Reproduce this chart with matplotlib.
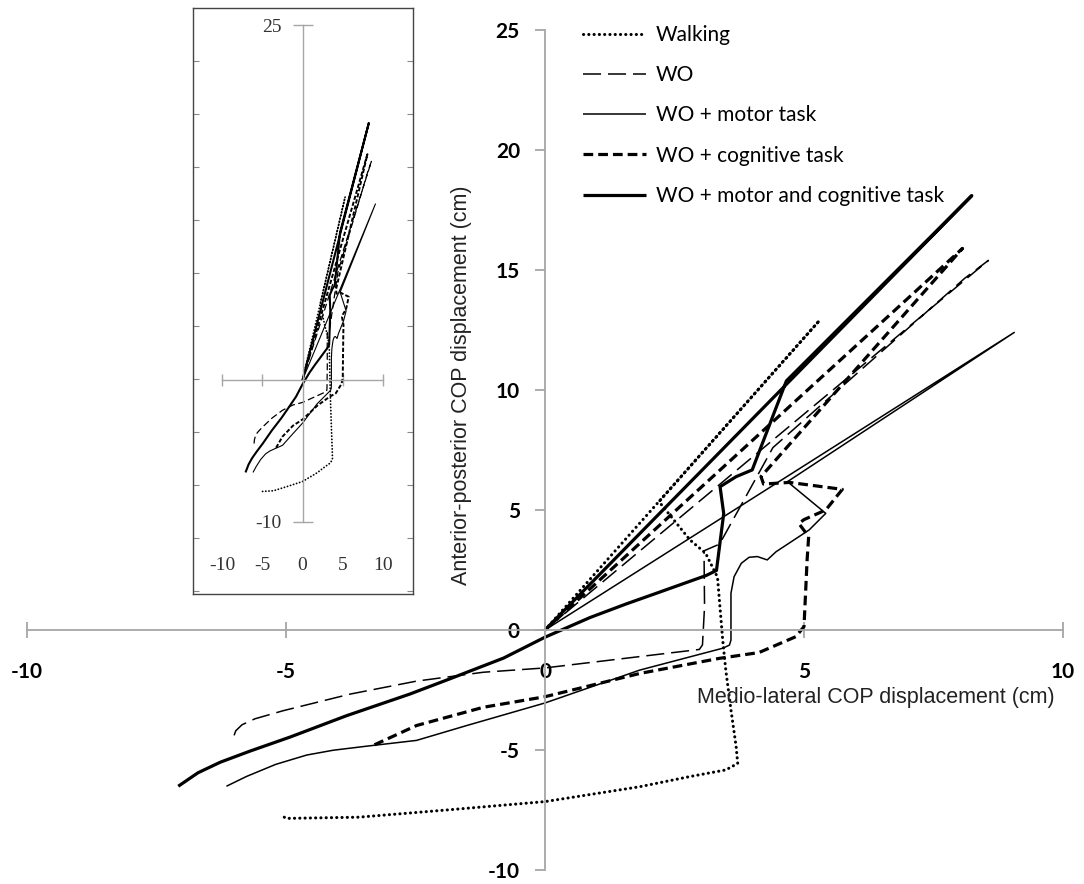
import matplotlib
matplotlib.use('Agg')
import matplotlib.pyplot as plt
from matplotlib.transforms import blended_transform_factory

plt.rcParams['lines.scale_dashes'] = False
plt.rcParams['axes.unicode_minus'] = False

# COP trajectories (cm): medio-lateral (x) / anterior-posterior (y)
walk_x = [0.0, 5.3, 2.2, 2.8, 3.1, 3.33, 3.43, 3.49, 3.59, 3.69, 3.72, 3.49, 2.79, 1.83, 0.0, -1.9, -3.6, -5.0, -5.1]
walk_y = [0.0, 12.9, 5.35, 3.75, 3.2, 2.2, -0.4, -1.67, -3.33, -4.86, -5.56, -5.83, -6.11, -6.53, -7.15, -7.5, -7.8, -7.85, -7.7]

wo_x = [0.0, 8.56, 8.1, 4.4, 3.37, 3.07, 3.08, 3.04, 2.98, 0.0, -1.19, -2.48, -3.76, -5.05, -5.6, -5.85, -5.97, -6.02]
wo_y = [0.0, 15.4, 14.65, 7.6, 3.58, 3.3, 0.97, -0.62, -0.81, -1.58, -1.76, -2.13, -2.67, -3.36, -3.7, -3.95, -4.2, -4.5]

mot_x = [0.0, 9.06, 4.68, 5.42, 5.1, 4.46, 4.29, 4.1, 3.94, 3.79, 3.65, 3.59, 3.59, 3.56, 3.43, 1.83, 0.0,
         -1.51, -2.48, -3.44, -4.09, -4.6, -5.2, -5.76, -6.15]
mot_y = [0.0, 12.4, 6.18, 4.86, 4.17, 3.26, 2.92, 3.06, 3.03, 2.78, 2.22, 1.53, -0.42, -0.63, -0.76, -1.67, -3.04,
         -3.98, -4.6, -4.84, -5.01, -5.21, -5.6, -6.1, -6.51]

cog_x = [0.0, 8.06, 4.17, 4.22, 4.72, 5.74, 5.42, 5.0, 4.9, 5.09, 5.06, 5.0, 4.84, 4.13, 3.37, 1.83, 0.0,
         -1.19, -2.48, -3.38]
cog_y = [0.0, 15.9, 6.39, 6.08, 6.15, 5.86, 5.0, 4.6, 4.44, 3.89, 2.92, 0.14, -0.28, -0.94, -1.18, -1.81, -2.78,
         -3.22, -3.98, -4.87]

mc_x = [0.0, 8.24, 4.66, 4.0, 3.69, 3.38, 3.45, 3.31, 3.11, 2.11, 1.56, 0.87, 0.0, -0.8, -1.83, -2.61, -3.83,
        -4.92, -5.7, -6.27, -6.7, -7.08]
mc_y = [0.0, 18.1, 10.38, 6.67, 6.39, 5.97, 4.85, 2.48, 2.27, 1.5, 1.08, 0.52, -0.3, -1.17, -2.03, -2.67, -3.57,
        -4.46, -5.05, -5.51, -5.95, -6.51]

labels = ['Walking', 'WO', 'WO + motor task', 'WO + cognitive task', 'WO + motor and cognitive task']
xticks = [-10, -5, 0, 5, 10]
yticks = [-10, -5, 0, 5, 10, 15, 20, 25]

series = [(walk_x, walk_y), (wo_x, wo_y), (mot_x, mot_y), (cog_x, cog_y), (mc_x, mc_y)]
# (linewidth, dash pattern in points, capstyle)
styles = [(2.2, (0, (0.1, 3.7)), 'round'),
          (1.1, (0, (13, 5)), 'butt'),
          (1.1, '-', 'butt'),
          (2.3, (0, (7, 3.6)), 'butt'),
          (2.3, '-', 'butt')]
inset_styles = [(1.3, (0, (0.1, 2.2)), 'round'),
                (0.9, (0, (5, 2.5)), 'butt'),
                (0.8, '-', 'butt'),
                (1.4, (0, (3, 1.5)), 'butt'),
                (1.5, '-', 'butt')]

W, H = 1084, 884
grey = '#a6a6a6'

fig = plt.figure(figsize=(W / 100, H / 100), dpi=100)

# main chart
ax = fig.add_axes([27 / W, 1 - 870 / H, 1036 / W, 840 / H])
ax.patch.set_visible(False)
for (xs, ys), (lw, ls, cap), lab in zip(series, styles, labels):
    ax.plot(xs, ys, color='black', lw=lw, ls=ls, dash_capstyle=cap, solid_capstyle='butt',
            solid_joinstyle='round', label=lab)

ax.set_xlim(-10, 10)
ax.set_ylim(-10, 25)
for s in ['top', 'right']:
    ax.spines[s].set_visible(False)
for s in ['left', 'bottom']:
    ax.spines[s].set_position(('data', 0))
    ax.spines[s].set_color(grey)
    ax.spines[s].set_linewidth(1.3)
ax.set_xticks(xticks)
ax.set_yticks(yticks)
ax.tick_params(axis='x', direction='inout', length=12, width=1.3, color=grey, pad=17, labelsize=15)
ax.tick_params(axis='y', direction='out', length=7, width=1.3, color=grey, pad=11, labelsize=15)
for t in ax.get_xticklabels() + ax.get_yticklabels():
    t.set_fontfamily('Lato')
    t.set_fontweight('bold')

leg = ax.legend(loc='upper left', bbox_to_anchor=(583 / W, 1 - 25 / H), bbox_transform=fig.transFigure,
                frameon=False, borderpad=0, borderaxespad=0, handlelength=3.0, handletextpad=0.48,
                labelspacing=0.97, prop={'family': 'Lato', 'size': 15})

fig.text(697 / W, 1 - 698 / H, 'Medio-lateral COP displacement (cm)', ha='left', va='center',
         family='Liberation Sans', size=15.5, color='#222222')
fig.text(462 / W, 1 - 385 / H, 'Anterior-posterior COP displacement (cm)', ha='center', va='center',
         rotation=90, family='Liberation Sans', size=15.5, color='#222222')

# inset: frame
frame = fig.add_axes([193 / W, 1 - 594 / H, 220 / W, 586 / H])
frame.set_xlim(0, 1)
frame.set_ylim(586, 0)
frame.set_xticks([])
frame.set_yticks(range(53, 586, 53))
frame.tick_params(axis='y', direction='in', length=4, color='#888888', labelleft=False, right=True)
for s in frame.spines.values():
    s.set_color('#444444')
    s.set_linewidth(1.0)

# inset: overview of trajectories
ins = fig.add_axes([222 / W, 1 - 522 / H, 161 / W, 497 / H])
ins.patch.set_visible(False)
for (xs, ys), (lw, ls, cap) in zip(series, inset_styles):
    ins.plot(xs, ys, color='black', lw=lw, ls=ls, dash_capstyle=cap, solid_capstyle='butt')
ins.set_xlim(-10, 10)
ins.set_ylim(-10, 25)
for s in ['top', 'right']:
    ins.spines[s].set_visible(False)
for s in ['left', 'bottom']:
    ins.spines[s].set_position(('data', 0))
    ins.spines[s].set_color(grey)
    ins.spines[s].set_linewidth(1.0)
ins.set_xticks(xticks)
ins.set_xticklabels([])
ins.set_yticks([yticks[0], yticks[-1]])
ins.tick_params(axis='x', direction='inout', length=8, width=1.0, color=grey)
ins.tick_params(axis='y', direction='inout', length=14, width=1.0, color=grey, pad=8,
                labelsize=14, labelcolor='#333333')
for t in ins.get_yticklabels():
    t.set_fontfamily('Liberation Serif')
tr = blended_transform_factory(ins.transData, fig.transFigure)
for xv in xticks:
    ins.text(xv, 1 - 565 / H, str(xv), transform=tr, ha='center', va='center',
             family='Liberation Serif', size=14, color='#333333')

fig.savefig('out.png', dpi=100)
